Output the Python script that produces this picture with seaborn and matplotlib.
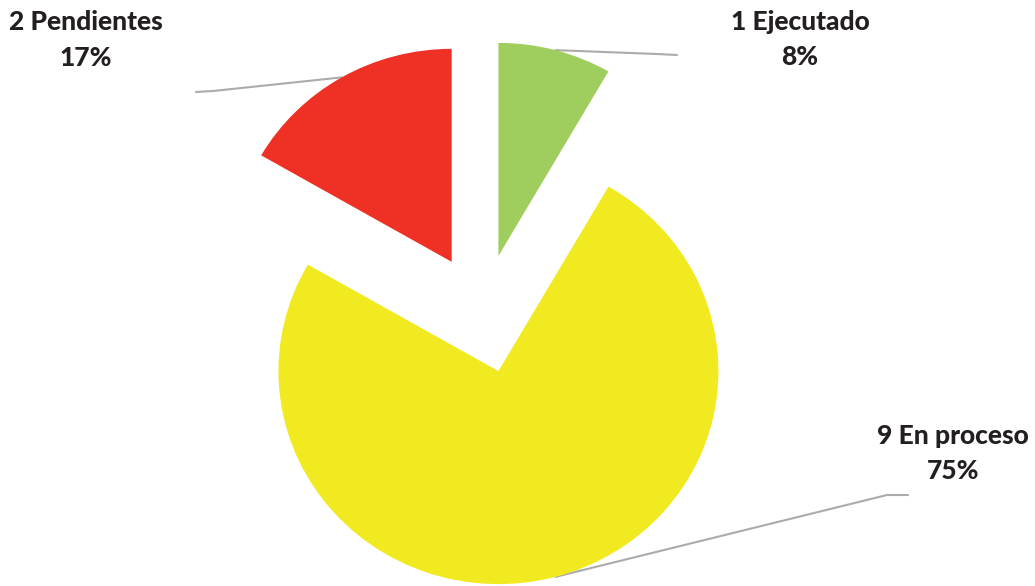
import matplotlib
matplotlib.use("Agg")
import matplotlib.pyplot as plt
import seaborn as sns
import numpy as np

# ---- data ----
categories = ["1 Ejecutado", "9 En proceso", "2 Pendientes"]
counts = [1, 9, 2]
percent_labels = ["8%", "75%", "17%"]
colors = ["#A0CE5E", "#F2EA20", "#EE3124"]

# ---- layout (pixels) ----
W, H = 1035, 586
CX, CY = 482.5, 313.5      # pie centre in pixels
SX, SY = 220.0, 213.0      # pixels per data unit
label_px = {               # centre of (line1, line2) for each label
    "1 Ejecutado": ((800, 22), (800, 57)),
    "9 En proceso": ((953, 436), (953, 471)),
    "2 Pendientes": ((86, 22), (86, 58)),
}
leader_px = {              # bend and end points of leader lines
    "1 Ejecutado": [(657, 54), (677, 55)],
    "9 En proceso": [(887, 495), (908, 495)],
    "2 Pendientes": [(213, 91), (196, 92)],
}


def px(x, y):
    return (x - CX) / SX, (CY - y) / SY


sns.set_theme(style="white")
plt.rcParams["font.family"] = ["Lato", "DejaVu Sans"]

fig = plt.figure(figsize=(W / 100, H / 100), dpi=100)
ax = fig.add_axes([0, 0, 1, 1])
wedges, _ = ax.pie(counts, colors=colors, startangle=90, counterclock=False,
                   explode=[0.28] * len(counts), radius=1.0,
                   wedgeprops=dict(linewidth=0))
ax.set_aspect("auto")
x0, y0 = px(0, 0)
x1, y1 = px(W, H)
ax.set_xlim(x0, x1)
ax.set_ylim(y1, y0)
ax.axis("off")

for w, cat, pct in zip(wedges, categories, percent_labels):
    mid = np.deg2rad((w.theta1 + w.theta2) / 2)
    cx, cy = w.center
    sx, sy = cx + w.r * np.cos(mid), cy + w.r * np.sin(mid)
    pts = [(sx, sy)] + [px(*p) for p in leader_px[cat]]
    xs, ys = zip(*pts)
    ax.plot(xs, ys, color="#ABABAB", lw=1.5, solid_capstyle="round", zorder=0)
    (l1, l2) = label_px[cat]
    ax.text(*px(*l1), cat, ha="center", va="center", fontsize=19,
            fontweight="black", color="#231F20")
    ax.text(*px(*l2), pct, ha="center", va="center", fontsize=19,
            fontweight="black", color="#231F20")

fig.savefig("out.png", dpi=100, facecolor="white")
